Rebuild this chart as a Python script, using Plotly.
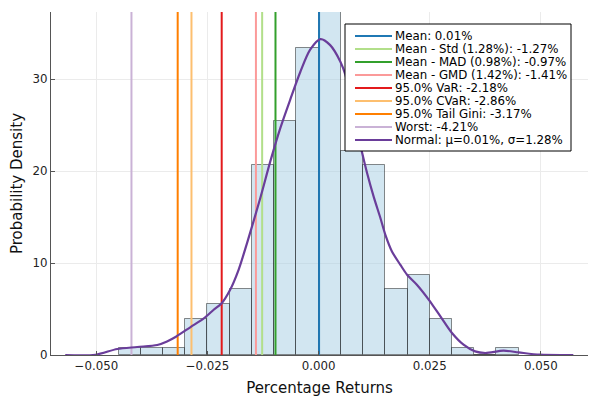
import plotly.graph_objects as go

# histogram of 252 daily returns, bins of 0.005 starting at their left edge
bin_left = [-0.045, -0.040, -0.035, -0.030, -0.025, -0.020, -0.015, -0.010, -0.005,
            0.000, 0.005, 0.010, 0.015, 0.020, 0.025, 0.030, 0.035, 0.040]
bin_counts = [1, 1, 1, 5, 7, 9, 26, 32, 42, 47, 28, 26, 9, 11, 5, 1, 0, 1]
bin_width = 0.005

# smoothed density curve
kde_x = [-0.0570, -0.0502, -0.0453, -0.0408, -0.0363, -0.0341, -0.0320, -0.0288,
         -0.0259, -0.0236, -0.0219, -0.0199, -0.0180, -0.0161, -0.0131, -0.0109,
         -0.0086, -0.0064, -0.0041, -0.0019, 0.0004, 0.0026, 0.0049, 0.0060,
         0.0078, 0.0098, 0.0109, 0.0124, 0.0139, 0.0150, 0.0165, 0.0184,
         0.0199, 0.0221, 0.0248, 0.0274, 0.0300, 0.0326, 0.0352, 0.0375,
         0.0416, 0.0450, 0.0498, 0.0573]
kde_y = [0.0, 0.03, 0.65, 0.87, 1.09, 1.48, 2.02, 3.04,
         3.95, 4.92, 5.58, 7.10, 9.27, 12.17, 17.1, 21.0,
         24.7, 27.75, 30.8, 33.2, 34.35, 33.7, 31.9, 30.5,
         26.5, 21.96, 19.8, 17.2, 14.9, 13.1, 11.26, 9.8,
         8.73, 7.64, 6.0, 4.2, 2.39, 1.12, 0.39, 0.22,
         0.47, 0.28, 0.03, 0.0]

# risk statistics (fractions)
mean_ret = 0.0001
std_ret = 0.0128
mad_ret = 0.0098
gmd_ret = 0.0142
var_95 = -0.0218
cvar_95 = -0.0286
tail_gini_95 = -0.0317
worst_ret = -0.0421

line_values = [
    mean_ret,
    mean_ret - std_ret,
    mean_ret - mad_ret,
    mean_ret - gmd_ret,
    var_95,
    cvar_95,
    tail_gini_95,
    worst_ret,
]
line_labels = [
    f"Mean: {mean_ret * 100:.2f}%",
    f"Mean - Std ({std_ret * 100:.2f}%): {(mean_ret - std_ret) * 100:.2f}%",
    f"Mean - MAD ({mad_ret * 100:.2f}%): {(mean_ret - mad_ret) * 100:.2f}%",
    f"Mean - GMD ({gmd_ret * 100:.2f}%): {(mean_ret - gmd_ret) * 100:.2f}%",
    f"95.0% VaR: {var_95 * 100:.2f}%",
    f"95.0% CVaR: {cvar_95 * 100:.2f}%",
    f"95.0% Tail Gini: {tail_gini_95 * 100:.2f}%",
    f"Worst: {worst_ret * 100:.2f}%",
]
line_colors = ["#1f78b4", "#b2df8a", "#33a02c", "#fb9a99",
               "#e31a1c", "#fdbf6f", "#ff7f00", "#cab2d6"]

kde_label = f"Normal: μ={mean_ret * 100:.2f}%, σ={std_ret * 100:.2f}%"
kde_color = "#6a3d9a"

x_ticks = [-0.050, -0.025, 0.000, 0.025, 0.050]
y_ticks = [0, 10, 20, 30]

FONT = "DejaVu Sans"
W, H = 600, 400
PAGE = 8  # the html body margin shifts the figure 8px right and down
# wanted plot box on screen: x 51..588, y 12..355
M_L, M_T = 51 - PAGE, 12 - PAGE
M_R, M_B = W - (588 - PAGE), H - (355 - PAGE)

n_obs = sum(bin_counts)
density = [c / (n_obs * bin_width) for c in bin_counts]
y_top = max(density)

fig = go.Figure()

fig.add_trace(go.Bar(
    x=bin_left,
    y=density,
    width=bin_width,
    offset=0,
    marker=dict(color="rgba(166,206,227,0.5)",
                line=dict(color="rgba(0,0,0,0.45)", width=1)),
    showlegend=False,
))

for v, c in zip(line_values, line_colors):
    fig.add_trace(go.Scatter(
        x=[v, v], y=[0, y_top], mode="lines",
        line=dict(color=c, width=2), showlegend=False,
    ))

fig.add_trace(go.Scatter(
    x=kde_x, y=kde_y, mode="lines",
    line=dict(color=kde_color, width=2.2, shape="spline", smoothing=0.8),
    showlegend=False,
))


# legend drawn by hand so rows stay as tight as in the original
# (positions given in screen pixels)
def px_x(px):
    return (px - PAGE - M_L) / (W - M_L - M_R)


def px_y(py):
    return (H - M_B - (py - PAGE)) / (H - M_T - M_B)


shapes = [dict(type="rect", xref="paper", yref="paper", layer="above",
               x0=px_x(345), x1=px_x(571), y0=px_y(151), y1=px_y(24),
               fillcolor="white", line=dict(color="black", width=1))]
annotations = []
for i, (lab, c) in enumerate(zip(line_labels + [kde_label], line_colors + [kde_color])):
    row = 36 + 13 * i
    shapes.append(dict(type="line", xref="paper", yref="paper", layer="above",
                       x0=px_x(355), x1=px_x(392), y0=px_y(row), y1=px_y(row),
                       line=dict(color=c, width=2)))
    annotations.append(dict(xref="paper", yref="paper", x=px_x(393), y=px_y(row),
                            text=lab, showarrow=False, xanchor="left", yanchor="middle",
                            font=dict(family=FONT, size=11.8, color="black")))

axis_style = dict(
    showline=True, linecolor="#555", linewidth=1.2, mirror=False,
    ticks="inside", ticklen=4, tickcolor="#555",
    showgrid=True, gridcolor="#ebebeb", gridwidth=1, zeroline=False,
    tickfont=dict(family=FONT, size=11.8, color="#222"),
    automargin=False,
)

fig.update_layout(
    width=W, height=H,
    margin=dict(l=M_L, r=M_R, t=M_T, b=M_B),
    plot_bgcolor="white", paper_bgcolor="white",
    font=dict(family=FONT),
    bargap=0,
    showlegend=False,
    shapes=shapes,
    annotations=annotations,
    xaxis=dict(
        axis_style,
        range=[-0.0602, 0.0606],
        tickvals=x_ticks, tickformat=".3f",
        title=dict(text="Percentage Returns", font=dict(family=FONT, size=15, color="#111"), standoff=10),
    ),
    yaxis=dict(
        axis_style,
        range=[0, y_top],
        tickvals=y_ticks,
        title=dict(text="Probability Density", font=dict(family=FONT, size=15, color="#111"), standoff=15),
    ),
)

fig.write_html("out.html")
